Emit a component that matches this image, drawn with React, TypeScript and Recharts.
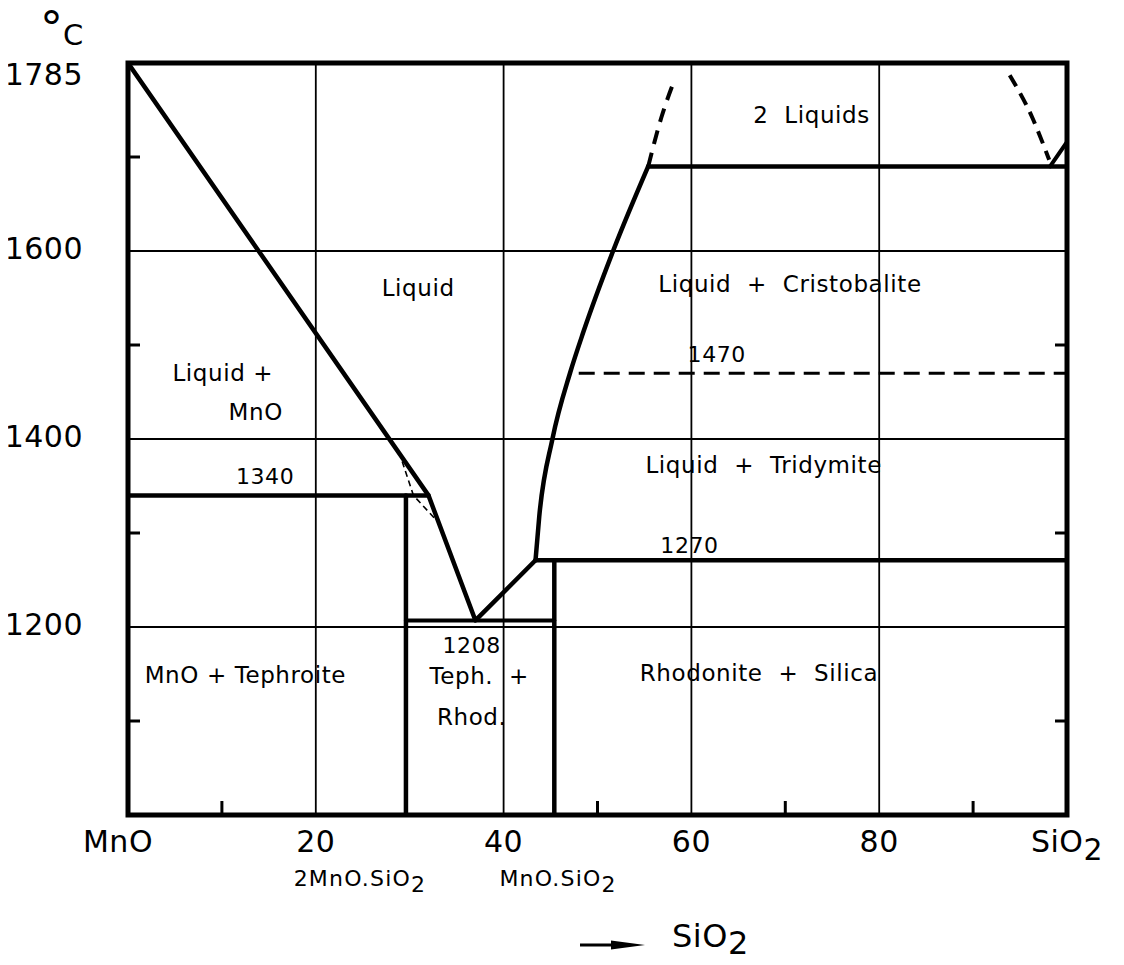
import React from 'react';
import {
  ComposedChart,
  Line,
  XAxis,
  YAxis,
  ReferenceLine,
  ReferenceArea,
  ReferenceDot,
} from 'recharts';

const FONT = "'DejaVu Sans', 'Liberation Sans', sans-serif";
const NB = '\u00A0';

// ---- axes ----
const xTicks = [0, 10, 20, 40, 50, 60, 70, 80, 90, 100];
const xMajor = [0, 20, 40, 60, 80, 100];
const xTickLabels: Record<number, string> = { 0: 'MnO', 20: '20', 40: '40', 60: '60', 80: '80', 100: 'SiO' };
const yTicksLeft = [1100, 1200, 1300, 1400, 1500, 1600, 1700, 1785];
const yLabelled = [1200, 1400, 1600, 1785];
const yTicksRight = [1100, 1300, 1500];
const gridX = [20, 40, 60, 80];
const gridY = [1200, 1400, 1600];
const compoundX = [24.7, 45.8];
const compoundNames = ['2MnO.SiO', 'MnO.SiO'];

// ---- phase boundaries (wt% SiO2, °C) ----
const liquidusMnO = [
  { x: 0, y: 1800 },
  { x: 32, y: 1340 },
  { x: 37, y: 1207 },
  { x: 43.4, y: 1271 },
];
const liquidusSiO2 = [
  { x: 43.4, y: 1271 },
  { x: 43.8, y: 1318 },
  { x: 45.2, y: 1400 },
  { x: 47.1, y: 1471 },
  { x: 48.5, y: 1514 },
  { x: 51.7, y: 1601 },
  { x: 55.4, y: 1690 },
];
const liquidusSiO2Dashed = [
  { x: 55.4, y: 1690 },
  { x: 56.8, y: 1742 },
  { x: 58.2, y: 1782 },
];
const metastable = [
  { x: 29.2, y: 1376 },
  { x: 30.4, y: 1340 },
  { x: 32.8, y: 1314 },
];
const iso1340 = [{ x: 0, y: 1340 }, { x: 32, y: 1340 }];
const iso1207 = [{ x: 29.6, y: 1207 }, { x: 45.4, y: 1207 }];
const iso1271 = [{ x: 43.4, y: 1271 }, { x: 100, y: 1271 }];
const iso1690 = [{ x: 55.4, y: 1690 }, { x: 100, y: 1690 }];
const iso1470 = [{ x: 48, y: 1470 }, { x: 100, y: 1470 }];
const tephroite = [{ x: 29.6, y: 1000 }, { x: 29.6, y: 1340 }];
const rhodonite = [{ x: 45.4, y: 1000 }, { x: 45.4, y: 1271 }];
const miscibility = [
  { x: 93.9, y: 1787 },
  { x: 96.3, y: 1742 },
  { x: 98.1, y: 1697 },
];
const cristobaliteWedge = [{ x: 98.2, y: 1690 }, { x: 100, y: 1716 }];

// ---- region labels ----
const regionLabels = [
  { x: 72.8, y: 1745, text: `2${NB}${NB}Liquids` },
  { x: 30.9, y: 1561, text: 'Liquid' },
  { x: 70.5, y: 1565, text: `Liquid${NB}${NB}+${NB}${NB}Cristobalite` },
  { x: 62.7, y: 1490, text: '1470' },
  { x: 10.1, y: 1470, text: `Liquid${NB}+` },
  { x: 13.6, y: 1429, text: 'MnO' },
  { x: 14.6, y: 1360, text: '1340' },
  { x: 67.7, y: 1372, text: `Liquid${NB}${NB}+${NB}${NB}Tridymite` },
  { x: 59.8, y: 1287, text: '1270' },
  { x: 36.6, y: 1181, text: '1208' },
  { x: 12.5, y: 1149, text: `MnO${NB}+${NB}Tephroite` },
  { x: 37.4, y: 1148, text: `Teph.${NB}${NB}+` },
  { x: 36.6, y: 1104, text: 'Rhod.' },
  { x: 67.2, y: 1151, text: `Rhodonite${NB}${NB}+${NB}${NB}Silica` },
];

const renderXTick = (props: any) => {
  const { x, y, payload } = props;
  const v = payload.value;
  if (!xMajor.includes(v)) {
    return <line x1={x} x2={x} y1={y} y2={y - 14} stroke="#000" strokeWidth={3} />;
  }
  const dx = v === 0 ? -10 : 0;
  return (
    <text x={x + dx} y={y + 37} textAnchor="middle" fontSize={30} fontFamily={FONT} fill="#000" letterSpacing={0.5}>
      {xTickLabels[v]}
      {v === 100 ? <tspan dy={8}>2</tspan> : null}
    </text>
  );
};

const renderCompoundTick = (props: any) => {
  const { x, y, index } = props;
  return (
    <text x={x} y={y + 21} textAnchor="middle" fontSize={22} fontFamily={FONT} fill="#000" letterSpacing={1.2}>
      {compoundNames[index] ?? ''}
      <tspan dy={6}>2</tspan>
    </text>
  );
};

const renderYTick = (props: any) => {
  const { x, y, payload } = props;
  const v = payload.value;
  if (!yLabelled.includes(v)) {
    return <line x1={x} x2={x + 12} y1={y} y2={y} stroke="#000" strokeWidth={3} />;
  }
  return (
    <text x={x - 45} y={y - 3} textAnchor="end" dominantBaseline="central" fontSize={30} fontFamily={FONT} fill="#000" letterSpacing={0.5}>
      {v}
    </text>
  );
};

const renderYTickRight = (props: any) => {
  const { x, y } = props;
  return <line x1={x} x2={x - 12} y1={y} y2={y} stroke="#000" strokeWidth={3} />;
};

const renderDegLabel = (props: any) => {
  const vb = props.viewBox || {};
  const left = (vb.x ?? 0) + (vb.width ?? 0);
  const top = vb.y ?? 0;
  return (
    <text x={left - 88} y={top - 19} fontSize={46} fontFamily={FONT} fill="#000">
      °
      <tspan dy={1} fontSize={29}>C</tspan>
    </text>
  );
};

const renderArrowLabel = (props: any) => {
  const vb = props.viewBox || {};
  const x0 = vb.x ?? 0;
  const y0 = vb.y ?? 0;
  const ay = y0 + 80;
  return (
    <g>
      <line x1={x0 + 452} x2={x0 + 500} y1={ay} y2={ay} stroke="#000" strokeWidth={3} />
      <polygon
        points={`${x0 + 483},${ay - 4.5} ${x0 + 517},${ay} ${x0 + 483},${ay + 4.5}`}
        fill="#000"
      />
      <text x={x0 + 544} y={y0 + 82} fontSize={32} fontFamily={FONT} fill="#000" letterSpacing={0.5}>
        SiO<tspan dy={7}>2</tspan>
      </text>
    </g>
  );
};

const lineCommon = {
  dataKey: 'y',
  stroke: '#000',
  dot: false,
  activeDot: false,
  isAnimationActive: false,
  strokeLinejoin: 'round' as const,
  strokeLinecap: 'round' as const,
  legendType: 'none' as const,
};

export default function App() {
  return (
    <div style={{ margin: '-8px 0 0 -8px', width: 1124, height: 965, background: '#fff' }}>
      <ComposedChart
        width={1124}
        height={965}
        margin={{ top: 63, right: 56, bottom: 60, left: 28 }}
      >
        <XAxis
          xAxisId={0}
          dataKey="x"
          type="number"
          domain={[0, 100]}
          allowDataOverflow
          ticks={xTicks}
          interval={0}
          tick={renderXTick}
          tickLine={false}
          axisLine={false}
          tickSize={0}
          tickMargin={0}
          height={50}
        />
        <XAxis
          xAxisId="cmp"
          dataKey="x"
          type="number"
          domain={[0, 100]}
          allowDataOverflow
          ticks={compoundX}
          interval={0}
          tick={renderCompoundTick}
          tickLine={false}
          axisLine={false}
          tickSize={0}
          tickMargin={0}
          height={40}
          label={renderArrowLabel}
        />
        <YAxis
          yAxisId={0}
          type="number"
          domain={[1000, 1800]}
          allowDataOverflow
          ticks={yTicksLeft}
          interval={0}
          tick={renderYTick}
          tickLine={false}
          axisLine={false}
          tickSize={0}
          tickMargin={0}
          width={100}
          label={renderDegLabel}
        />
        <YAxis
          yAxisId="r"
          orientation="right"
          type="number"
          domain={[1000, 1800]}
          allowDataOverflow
          ticks={yTicksRight}
          interval={0}
          tick={renderYTickRight}
          tickLine={false}
          axisLine={false}
          tickSize={0}
          tickMargin={0}
          width={1}
        />

        {gridX.map((g) => (
          <ReferenceLine key={`gx${g}`} x={g} stroke="#000" strokeWidth={1.8} />
        ))}
        {gridY.map((g) => (
          <ReferenceLine key={`gy${g}`} y={g} stroke="#000" strokeWidth={1.8} />
        ))}
        <ReferenceArea x1={0} x2={100} y1={1000} y2={1800} fill="none" fillOpacity={0} stroke="#000" strokeWidth={5} />

        <Line {...lineCommon} data={liquidusMnO} strokeWidth={4.5} type="linear" />
        <Line {...lineCommon} data={liquidusSiO2} strokeWidth={4.5} type="monotone" />
        <Line {...lineCommon} data={liquidusSiO2Dashed} strokeWidth={4} type="monotone" strokeDasharray="14 9" strokeLinecap="butt" />
        <Line {...lineCommon} data={metastable} strokeWidth={1.6} type="linear" strokeDasharray="6 4" strokeLinecap="butt" />
        <Line {...lineCommon} data={iso1340} strokeWidth={4.5} type="linear" />
        <Line {...lineCommon} data={iso1207} strokeWidth={4} type="linear" />
        <Line {...lineCommon} data={iso1271} strokeWidth={4.5} type="linear" />
        <Line {...lineCommon} data={iso1690} strokeWidth={4.5} type="linear" />
        <Line {...lineCommon} data={iso1470} strokeWidth={3} type="linear" strokeDasharray="16 9" strokeLinecap="butt" />
        <Line {...lineCommon} data={tephroite} strokeWidth={4.5} type="linear" />
        <Line {...lineCommon} data={rhodonite} strokeWidth={4.5} type="linear" />
        <Line {...lineCommon} data={miscibility} strokeWidth={4} type="monotone" strokeDasharray="13 8" strokeLinecap="butt" />
        <Line {...lineCommon} data={cristobaliteWedge} strokeWidth={4} type="linear" />

        {regionLabels.map((r) => (
          <ReferenceDot
            key={r.text + r.x}
            x={r.x}
            y={r.y}
            r={1}
            fill="none"
            stroke="none"
            label={{
              value: r.text,
              position: 'center',
              fill: '#000',
              fontSize: /^\d+$/.test(r.text) ? 22 : 23,
              fontFamily: FONT,
              letterSpacing: 0.6,
            }}
          />
        ))}
      </ComposedChart>
    </div>
  );
}
